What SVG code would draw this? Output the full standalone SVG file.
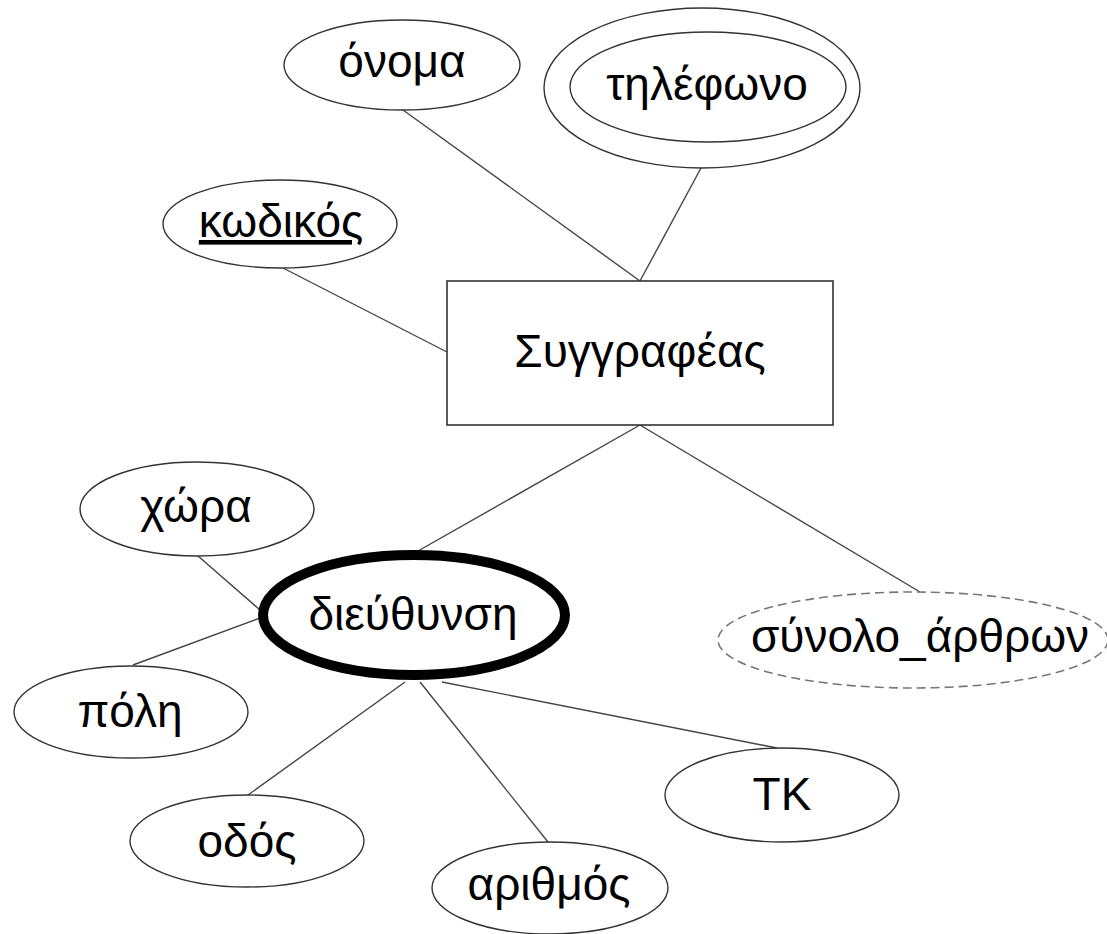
<svg xmlns="http://www.w3.org/2000/svg" width="1107" height="934" viewBox="0 0 1107 934">
<style>
.bg{fill:#fff}
.e{fill:#fff;stroke:#333;stroke-width:1.4}
.thick{fill:#fff;stroke:#000;stroke-width:10}
.dash{fill:#fff;stroke:#777;stroke-width:1.6;stroke-dasharray:9 5}
.r{fill:#fff;stroke:#333;stroke-width:1.6}
.c line{stroke:#444;stroke-width:1.4}
text{font-family:"Liberation Sans",Arial,sans-serif;font-size:46px;fill:#000;text-anchor:middle}
</style>
<rect class="bg" x="0" y="0" width="1107" height="934"/>
<g class="c" id="connectors">
<line x1="403" y1="110" x2="640" y2="281"/>
<line x1="701" y1="168" x2="640" y2="281"/>
<line x1="283" y1="268" x2="447" y2="352"/>
<line x1="640" y1="425" x2="418" y2="551"/>
<line x1="640" y1="425" x2="920" y2="592"/>
<line x1="198" y1="556" x2="260" y2="610"/>
<line x1="133" y1="665" x2="260" y2="618"/>
<line x1="405" y1="682" x2="248" y2="795"/>
<line x1="420" y1="682" x2="548" y2="842"/>
<line x1="442" y1="682" x2="777" y2="748"/>
</g>
<g id="onoma"><ellipse class="e" cx="402" cy="65" rx="118" ry="45"/><text x="402" y="77">όνομα</text></g>
<g id="tilefono"><ellipse class="e" cx="702" cy="88" rx="158" ry="80"/><ellipse class="e" cx="708" cy="87" rx="138" ry="55"/><text x="707" y="100">τηλέφωνο</text></g>
<g id="kodikos"><ellipse class="e" cx="280" cy="224" rx="117" ry="44"/><text x="281" y="237" text-decoration="underline">κωδικός</text></g>
<g id="syggrafeas"><rect class="r" x="447" y="281" width="386" height="144"/><text x="640" y="367">Συγγραφέας</text></g>
<g id="xora"><ellipse class="e" cx="197" cy="509" rx="117" ry="47"/><text x="196" y="522">χώρα</text></g>
<g id="poli"><ellipse class="e" cx="131" cy="712" rx="117" ry="46"/><text x="130" y="727">πόλη</text></g>
<g id="dieythynsi"><ellipse class="thick" cx="414" cy="615" rx="151" ry="60"/><text x="413" y="630">διεύθυνση</text></g>
<g id="synolo"><ellipse class="dash" cx="913" cy="640" rx="195" ry="48"/><text x="920" y="652">σύνολο_άρθρων</text></g>
<g id="odos"><ellipse class="e" cx="247" cy="841" rx="117" ry="46"/><text x="247" y="857">οδός</text></g>
<g id="arithmos"><ellipse class="e" cx="550" cy="888" rx="118" ry="46"/><text x="549" y="900">αριθμός</text></g>
<g id="tk"><ellipse class="e" cx="782" cy="795" rx="117" ry="47"/><text x="782" y="810">ΤΚ</text></g>
</svg>
